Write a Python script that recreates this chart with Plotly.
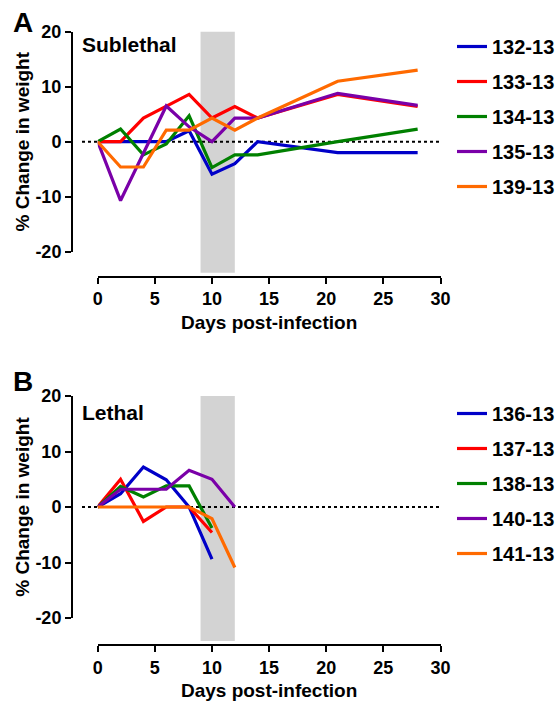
import plotly.graph_objects as go

# ---------------- data ----------------
days_A = [0, 2, 4, 6, 8, 10, 12, 14, 21, 28]
w_132 = [0, 0, 0, 0, 2.0, -5.9, -4.0, 0, -2.0, -2.0]
w_133 = [0, 0, 4.3, 6.4, 8.6, 4.3, 6.4, 4.3, 8.6, 6.4]
w_134 = [0, 2.3, -2.4, -0.4, 4.7, -4.7, -2.4, -2.4, 0, 2.3]
w_135 = [0, -10.7, -2.1, 6.5, 2.7, 0, 4.3, 4.3, 8.8, 6.6]
w_139 = [0, -4.6, -4.6, 2.1, 2.1, 4.3, 2.1, 4.3, 11.0, 13.0]
names_A = ["132-13", "133-13", "134-13", "135-13", "139-13"]

days_B = [0, 2, 4, 6, 8, 10, 12]
w_136 = [0, 2.4, 7.2, 4.9, 0, -9.4]
w_137 = [0, 5.0, -2.6, 0, 0, -4.6]
w_138 = [0, 3.7, 1.8, 3.8, 3.8, -3.8]
w_140 = [0, 3.2, 3.2, 3.2, 6.6, 5.0, 0]
w_141 = [0, 0, 0, 0, 0, -2.1, -10.9]
names_B = ["136-13", "137-13", "138-13", "140-13", "141-13"]

colors = ["#0000C8", "#FF0000", "#008000", "#7A00A8", "#FF6A00"]

x_ticks = [0, 5, 10, 15, 20, 25, 30]
y_ticks = [-20, -10, 0, 10, 20]
y_ticktext = ["-20", "-10", "0", "10", "20"]
band = [9, 12]

W, H = 556, 701
FONT = "Liberation Sans, Arial, sans-serif"

fig = go.Figure()

seriesA = [w_132, w_133, w_134, w_135, w_139]
seriesB = [w_136, w_137, w_138, w_140, w_141]

for i, (nm, ys) in enumerate(zip(names_A, seriesA)):
    fig.add_trace(go.Scatter(x=days_A[:len(ys)], y=ys, mode="lines", name=nm,
                             line=dict(color=colors[i], width=3.2),
                             xaxis="x", yaxis="y", legend="legend",
                             legendgroup="a" + nm))
for i, (nm, ys) in enumerate(zip(names_B, seriesB)):
    fig.add_trace(go.Scatter(x=days_B[:len(ys)], y=ys, mode="lines", name=nm,
                             line=dict(color=colors[i], width=3.2),
                             xaxis="x2", yaxis="y2", legend="legend2",
                             legendgroup="b" + nm))

def px_x(p):
    return p / W

def px_y(p):
    return 1 - p / H

# panel geometry (pixels)
x0_px, x30_px, yaxis_px = 97.7, 440.5, 72
A_top, A_bot, A_axis = 31.7, 251.7, 276.7
B_top, B_bot, B_axis = 396, 618, 645

tickfont = dict(family=FONT, size=18, color="black", weight="bold")
titlefont = dict(family=FONT, size=19, color="black", weight="bold")

def xax(dom_y_pos):
    return dict(domain=[px_x(x0_px), px_x(x30_px)], range=[0, 30],
                anchor="free", position=dom_y_pos,
                tickvals=x_ticks, ticks="outside", ticklen=6, tickwidth=2,
                tickcolor="black", showline=True, linewidth=2, linecolor="black",
                showgrid=False, zeroline=False, tickfont=tickfont,
                title=dict(text="Days post-infection", font=titlefont, standoff=6))

def yax(top, bot):
    return dict(domain=[px_y(bot), px_y(top)], range=[-20, 20],
                anchor="free", position=px_x(yaxis_px),
                tickvals=y_ticks, ticktext=y_ticktext,
                ticks="outside", ticklen=6, tickwidth=2,
                tickcolor="black", showline=True, linewidth=2, linecolor="black",
                showgrid=False, zeroline=False, tickfont=tickfont,
                title=dict(text="% Change in weight", font=titlefont, standoff=0))

fig.update_layout(
    width=W, height=H, margin=dict(l=0, r=0, t=0, b=0, autoexpand=False),
    paper_bgcolor="white", plot_bgcolor="white",
    xaxis=xax(px_y(A_axis)),
    yaxis=yax(A_top, A_bot),
    xaxis2=xax(px_y(B_axis)),
    yaxis2=yax(B_top, B_bot),
    font=dict(family=FONT, color="black"),
)

leg_common = dict(font=dict(family=FONT, size=20, color="black", weight="bold"),
                  bgcolor="rgba(0,0,0,0)", borderwidth=0, tracegroupgap=6,
                  xanchor="left", yanchor="top", itemwidth=30)
fig.update_layout(
    legend=dict(x=px_x(452), y=px_y(27), **leg_common),
    legend2=dict(x=px_x(452), y=px_y(394), **leg_common),
)

shapes = []
for xa, ya, top, bot, axis in [("x", "y", A_top, A_bot, A_axis), ("x2", "y2", B_top, B_bot, B_axis)]:
    span = bot - top
    ext = (axis - bot - 4) / span
    shapes.append(dict(type="rect", xref=xa + " domain", yref=ya + " domain",
                       x0=band[0] / 30, x1=band[1] / 30, y0=-ext, y1=1,
                       fillcolor="#D3D3D3", line=dict(width=0), layer="below"))
    shapes.append(dict(type="line", xref=xa + " domain", yref=ya + " domain",
                       x0=-(x0_px - 82) / (x30_px - x0_px), x1=1.0,
                       y0=0.5, y1=0.5,
                       line=dict(color="black", width=2, dash="dot"), layer="below"))
fig.update_layout(shapes=shapes)

ann = []
for txt, x, y, size in [("A", 23, 23, 28), ("B", 23, 382, 28)]:
    ann.append(dict(text=txt, x=px_x(x), y=px_y(y), xref="paper", yref="paper",
                    showarrow=False, xanchor="center", yanchor="middle",
                    font=dict(family=FONT, size=size, color="black", weight="bold")))
for txt, x, y in [("Sublethal", 80, 45), ("Lethal", 80, 412)]:
    ann.append(dict(text=txt, x=px_x(x), y=px_y(y), xref="paper", yref="paper",
                    showarrow=False, xanchor="left", yanchor="middle",
                    font=dict(family=FONT, size=21, color="black", weight="bold")))
fig.update_layout(annotations=ann)

fig.write_html("out.html")
